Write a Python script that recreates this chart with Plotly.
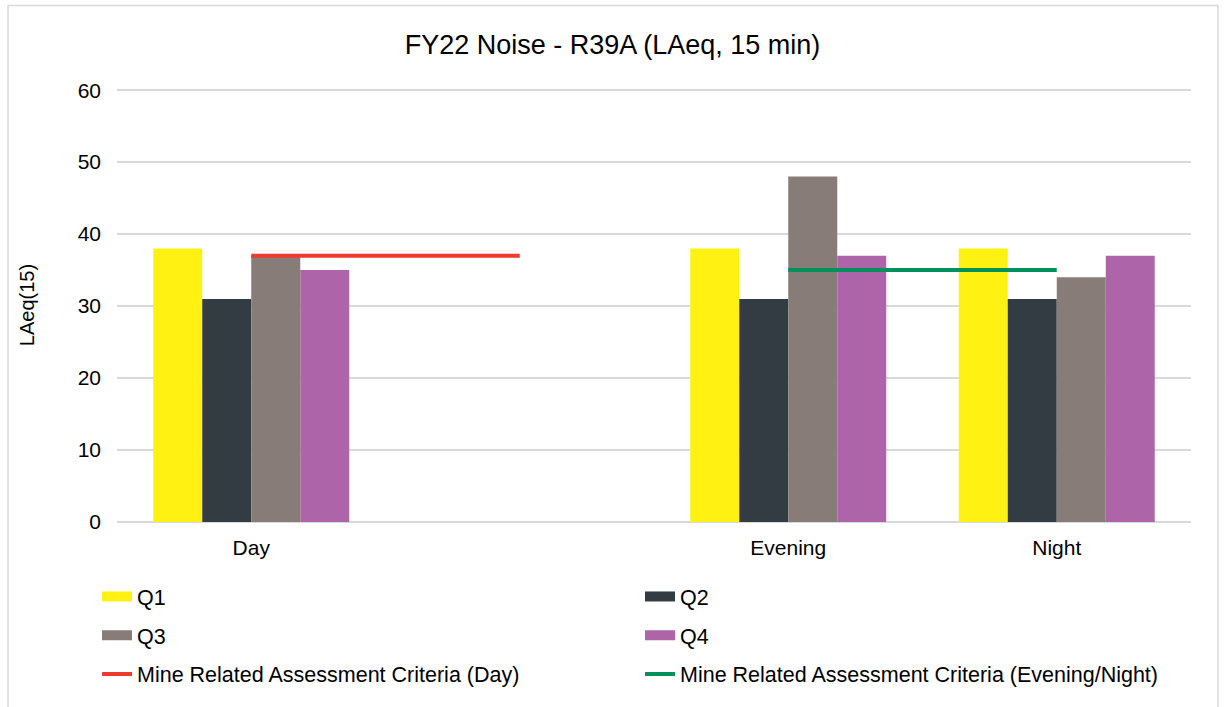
import plotly.graph_objects as go

categories = ["Day", " ", "Evening", "Night"]
q1 = [38, None, 38, 38]
q2 = [31, None, 31, 31]
q3 = [37, None, 48, 34]
q4 = [35, None, 37, 37]
crit_day = [37, 37, None, None]
crit_evening_night = [None, None, 35, 35]
y_ticks = [0, 10, 20, 30, 40, 50, 60]

FONT = "Liberation Sans, Arial, sans-serif"

fig = go.Figure()
bar_specs = [("Q1", q1, "#FFF212", "legend"), ("Q2", q2, "#323C42", "legend"),
             ("Q3", q3, "#877C77", "legend2"), ("Q4", q4, "#AE64A9", "legend2")]
for name, vals, col, lg in bar_specs:
    fig.add_trace(go.Bar(x=categories, y=vals, name=name, marker_color=col,
                         marker_line_width=0, showlegend=False, legendgroup=name))
# legend entries for bars (wide swatches like the original)
for name, vals, col, lg in bar_specs:
    fig.add_trace(go.Scatter(x=[None], y=[None], mode="lines", name=name,
                             legendgroup=name, legend=lg,
                             line=dict(color=col, width=14)))
fig.add_trace(go.Scatter(x=categories, y=crit_day, mode="lines",
                         name="Mine Related Assessment Criteria (Day)", legend="legend3",
                         line=dict(color="#EF3A2E", width=4)))
fig.add_trace(go.Scatter(x=categories, y=crit_evening_night, mode="lines",
                         name="Mine Related Assessment Criteria (Evening/Night)",
                         legend="legend3",
                         line=dict(color="#00925A", width=4)))

# plot area: top 88, bottom 525 -> height 437
def py(y_px):
    return (525 - y_px) / 437.0

def leg(y):
    return dict(orientation="h", x=-0.0186, xanchor="left", y=y, yanchor="middle",
                entrywidth=498, entrywidthmode="pixels", traceorder="normal",
                font=dict(size=21.5, color="#000000"), bgcolor="rgba(0,0,0,0)")

fig.update_layout(
    width=1225, height=707,
    margin=dict(l=117, r=34, t=88, b=182),
    paper_bgcolor="white", plot_bgcolor="white",
    font=dict(family=FONT, size=21, color="#000000"),
    title=dict(text="FY22 Noise - R39A (LAeq, 15 min)", x=0.5, xanchor="center",
               y=0.9364, yanchor="middle", font=dict(size=27, color="#000000")),
    barmode="group", bargap=0.27, bargroupgap=0,
    showlegend=True,
    legend=leg(py(600)), legend2=leg(py(639)), legend3=leg(py(678)),
    xaxis=dict(type="category", categoryorder="array", categoryarray=categories,
               showgrid=False, showline=False, ticks="", tickfont=dict(size=21),
               ticklabelstandoff=11),
    yaxis=dict(range=[0, 60.3], tickvals=y_ticks, showgrid=True, gridcolor="#D9D9D9",
               gridwidth=2, zeroline=True, zerolinecolor="#D9D9D9", zerolinewidth=2,
               ticks="", ticklen=0, tickfont=dict(size=21), ticklabelstandoff=15,
               title=dict(text="LAeq(15)", font=dict(size=20), standoff=37)),
)
fig.add_shape(type="rect", xref="paper", yref="paper",
              x0=-0.1015, x1=1.0251, y0=py(712), y1=py(5),
              line=dict(color="#D9D9D9", width=1.5), fillcolor="rgba(0,0,0,0)", layer="below")

fig.write_html("out.html", config={"displayModeBar": False},
               post_script="document.body.style.margin='0';")
